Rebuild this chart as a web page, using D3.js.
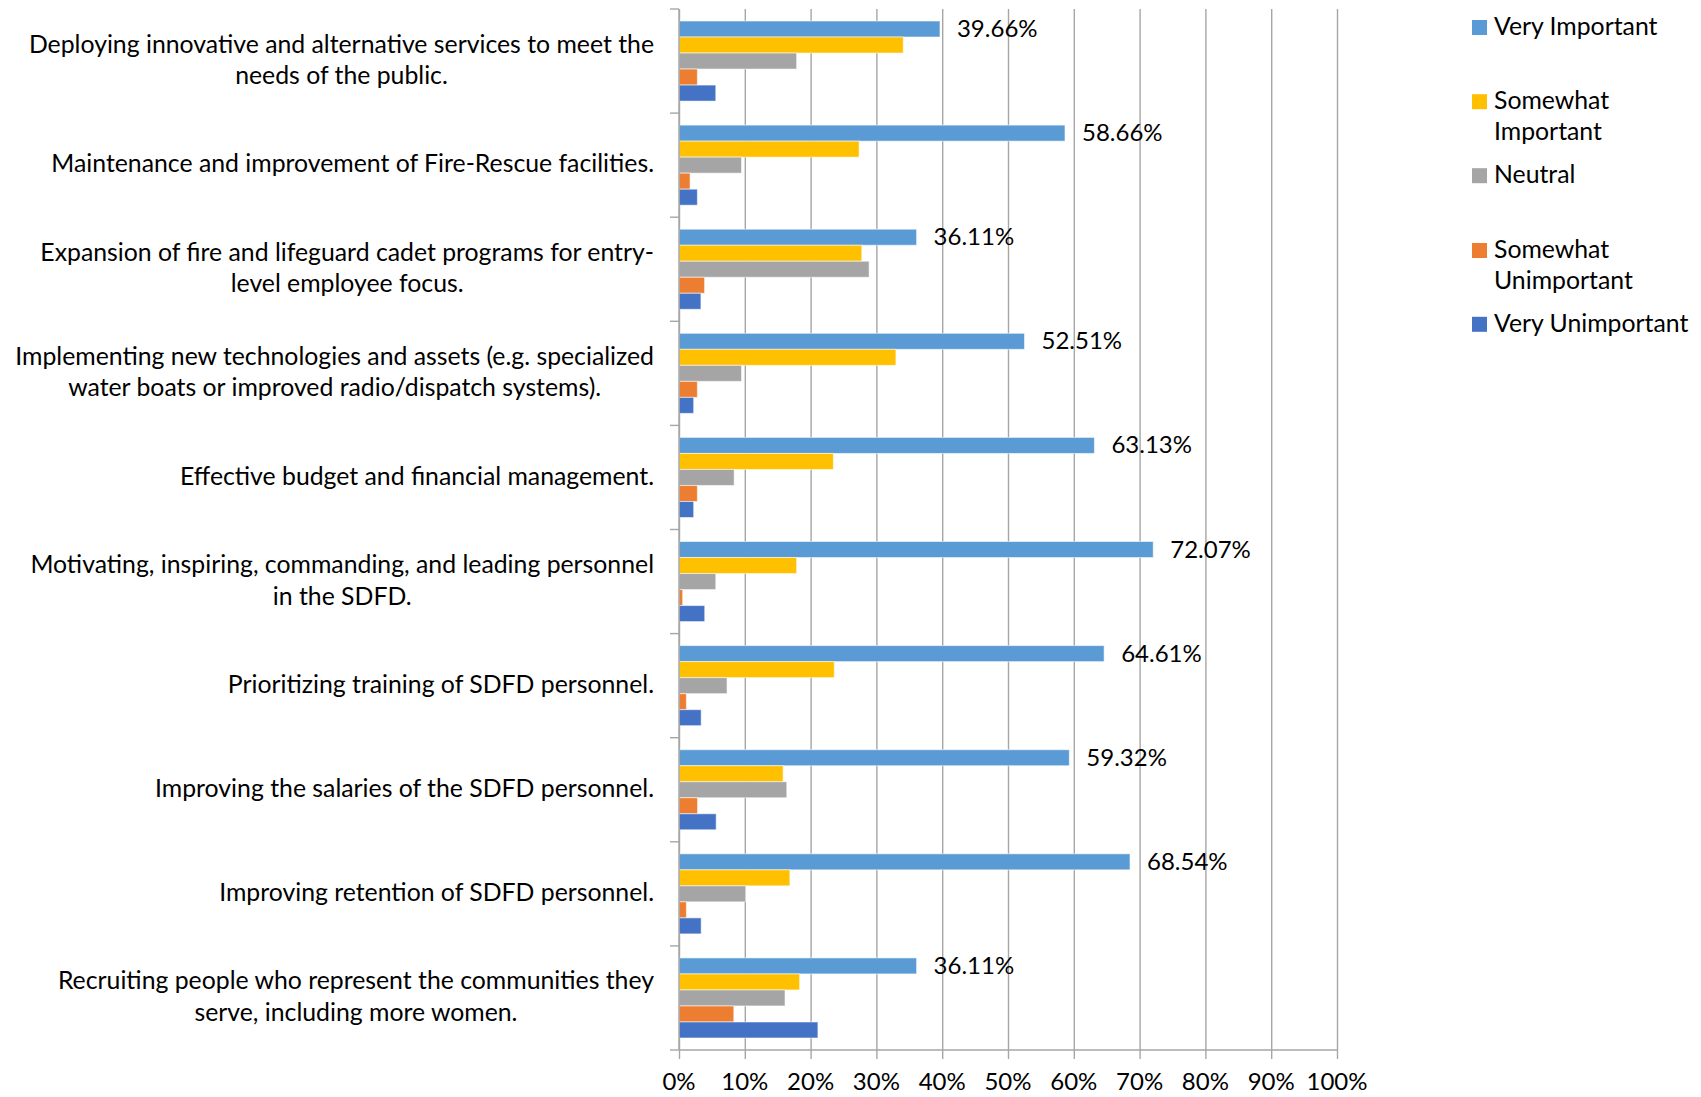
<!DOCTYPE html>
<html>
<head>
<meta charset="utf-8">
<script src="https://cdn.jsdelivr.net/npm/d3@7"></script>
<style>
  html, body { margin: 0; padding: 0; background: #fff; }
  svg { display: block; }
  text { font-family: Lato, "Open Sans", sans-serif; fill: #000; }
</style>
</head>
<body>
<svg id="chart" width="1701" height="1097"></svg>
<script>
// Survey priorities: share of responses per importance rating
const categories = [
  "Deploying innovative and alternative services to meet the\nneeds of the public.",
  "Maintenance and improvement of Fire-Rescue facilities.",
  "Expansion of fire and lifeguard cadet programs for entry-\nlevel employee focus.",
  "Implementing new technologies and assets (e.g. specialized\nwater boats or improved radio/dispatch systems).",
  "Effective budget and financial management.",
  "Motivating, inspiring, commanding, and leading personnel\nin the SDFD.",
  "Prioritizing training of SDFD personnel.",
  "Improving the salaries of the SDFD personnel.",
  "Improving retention of SDFD personnel.",
  "Recruiting people who represent the communities they\nserve, including more women."
];

const seriesNames = ["Very Important", "Somewhat Important", "Neutral", "Somewhat Unimportant", "Very Unimportant"];
const legendLines = [["Very Important"], ["Somewhat", "Important"], ["Neutral"], ["Somewhat", "Unimportant"], ["Very Unimportant"]];
const seriesColors = ["#5B9BD5", "#FFC000", "#A5A5A5", "#ED7D31", "#4472C4"];

// percentages, one value per category
const veryImportant       = [39.66, 58.66, 36.11, 52.51, 63.13, 72.07, 64.61, 59.32, 68.54, 36.11];
const somewhatImportant   = [34.08, 27.37, 27.78, 32.96, 23.46, 17.88, 23.60, 15.82, 16.85, 18.33];
const neutral             = [17.88,  9.50, 28.89,  9.50,  8.38,  5.59,  7.30, 16.38, 10.11, 16.11];
const somewhatUnimportant = [ 2.79,  1.68,  3.89,  2.79,  2.79,  0.56,  1.12,  2.82,  1.12,  8.33];
const veryUnimportant     = [ 5.59,  2.79,  3.33,  2.23,  2.23,  3.91,  3.37,  5.65,  3.37, 21.11];
const seriesValues = [veryImportant, somewhatImportant, neutral, somewhatUnimportant, veryUnimportant];

const xTicks = [0, 10, 20, 30, 40, 50, 60, 70, 80, 90, 100];

const svg = d3.select("#chart");
const FS_NUM = 24;   // numbers: tick and value labels
const FS_TXT = 24.8; // category and legend text
const plot = { left: 679, right: 1337, top: 9, bottom: 1050 };

const x = d3.scaleLinear().domain([0, 100]).range([plot.left, plot.right]);
const y = d3.scaleBand().domain(d3.range(categories.length)).range([plot.top, plot.bottom]).padding(0);
const ySub = d3.scaleBand().domain(d3.range(seriesNames.length)).range([0, y.bandwidth()]).paddingInner(0).paddingOuter(0.75);

// vertical gridlines with downward tick marks
const xAxis = d3.axisBottom(x).tickValues(xTicks).tickSize(-(plot.bottom - plot.top)).tickFormat("");
const gGrid = svg.append("g").attr("transform", `translate(0,${plot.bottom})`).call(xAxis);
gGrid.select(".domain").remove();
gGrid.selectAll("line").attr("stroke", "#a6a6a6").attr("stroke-width", 1.4);
gGrid.selectAll(".tick").append("line").attr("y1", 0).attr("y2", 9).attr("stroke", "#a6a6a6").attr("stroke-width", 1.4);

// bottom axis line and labels
svg.append("line").attr("x1", plot.left).attr("x2", plot.right).attr("y1", plot.bottom).attr("y2", plot.bottom)
  .attr("stroke", "#a6a6a6").attr("stroke-width", 1.4);
svg.append("g").selectAll("text").data(xTicks).join("text")
  .attr("x", d => x(d)).attr("y", plot.bottom + 34)
  .attr("text-anchor", "middle").attr("dominant-baseline", "middle")
  .style("font-size", FS_NUM + "px").text(d => d + "%");

// bars
const groups = svg.append("g").selectAll("g").data(categories).join("g")
  .attr("transform", (d, i) => `translate(0,${y(i)})`);
groups.selectAll("rect").data((d, i) => seriesValues.map((vals, s) => ({ s, v: vals[i] }))).join("rect")
  .attr("x", x(0))
  .attr("y", d => ySub(d.s))
  .attr("width", d => x(d.v) - x(0))
  .attr("height", ySub.bandwidth())
  .attr("fill", d => seriesColors[d.s])
  .attr("stroke", "#ffffff").attr("stroke-opacity", 0.55).attr("stroke-width", 1);

// value labels on the "Very Important" bars
groups.append("text")
  .attr("x", (d, i) => x(veryImportant[i]) + 17)
  .attr("y", ySub(0) + ySub.bandwidth() / 2 + 2)
  .attr("dominant-baseline", "middle")
  .style("font-size", FS_NUM + "px")
  .text((d, i) => veryImportant[i].toFixed(2) + "%");

// vertical axis with outward category ticks
const yAxisG = svg.append("g");
yAxisG.append("line").attr("x1", plot.left).attr("x2", plot.left).attr("y1", plot.top).attr("y2", plot.bottom)
  .attr("stroke", "#a6a6a6").attr("stroke-width", 1.4);
yAxisG.selectAll("line.tick").data(d3.range(categories.length + 1)).join("line").attr("class", "tick")
  .attr("x1", plot.left - 9).attr("x2", plot.left)
  .attr("y1", i => plot.top + i * y.step()).attr("y2", i => plot.top + i * y.step())
  .attr("stroke", "#a6a6a6").attr("stroke-width", 1.4);

// category labels: block right-aligned, lines centred within the block
const labelRight = plot.left - 25;
const lineH = 31.5;
categories.forEach((c, i) => {
  const lines = c.split("\n");
  const g = svg.append("g");
  const texts = lines.map((ln, k) => g.append("text")
    .attr("y", y(i) + y.bandwidth() / 2 + 1 + (k - (lines.length - 1) / 2) * lineH)
    .attr("dominant-baseline", "middle")
    .attr("text-anchor", "middle")
    .style("font-size", FS_TXT + "px").text(ln));
  const w = d3.max(texts, t => t.node().getComputedTextLength());
  texts.forEach(t => t.attr("x", labelRight - w / 2));
});

// legend
const legend = svg.append("g");
const legendY = [27.5, 101.7, 175.7, 250.5, 324.3];
legendLines.forEach((lines, s) => {
  legend.append("rect").attr("x", 1472).attr("y", legendY[s] - 7.5).attr("width", 15).attr("height", 15)
    .attr("fill", seriesColors[s]);
  lines.forEach((ln, k) => legend.append("text")
    .attr("x", 1494).attr("y", legendY[s] + 1 + k * lineH)
    .attr("dominant-baseline", "middle")
    .style("font-size", FS_TXT + "px").text(ln));
});
</script>
</body>
</html>
